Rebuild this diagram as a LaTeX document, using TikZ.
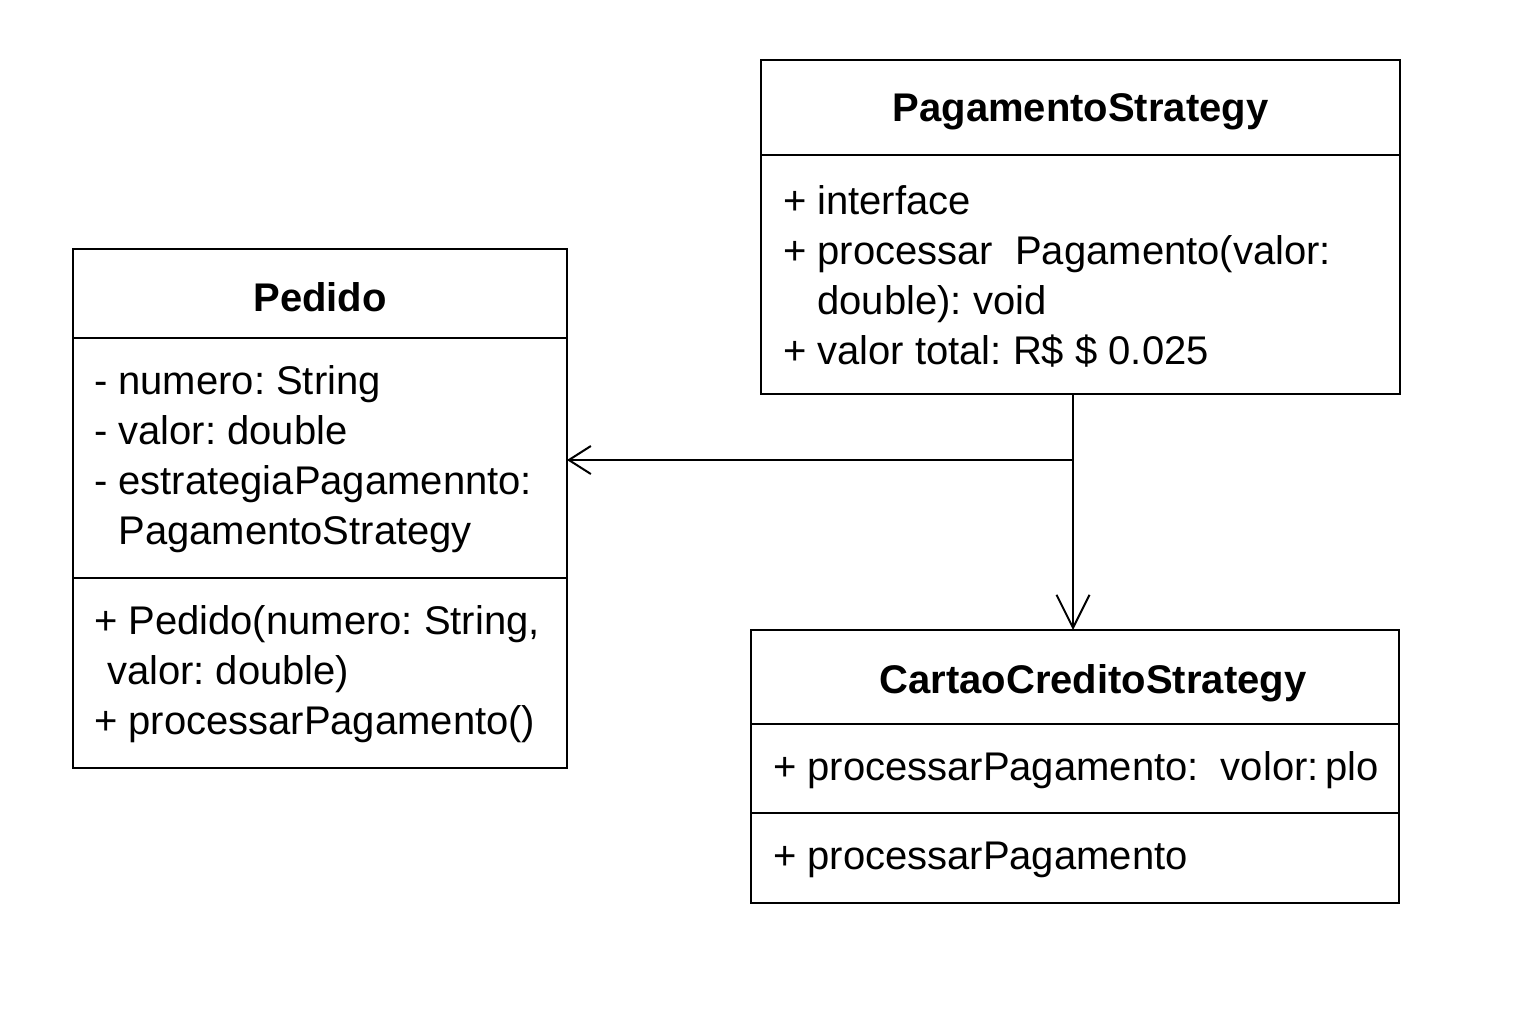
\documentclass[tikz,border=0pt]{standalone}
\usepackage{fontspec}
\setmainfont{Liberation Sans}
\usetikzlibrary{arrows.meta}
\newcommand*{\hang}[1]{\phantom{#1}}
\frenchspacing

\begin{document}
\begin{tikzpicture}[x=0.5pt, y=-0.5pt, line width=1pt,
  every node/.style={font=\fontsize{20}{25}\selectfont, inner sep=0pt},
  member/.style={anchor=west, align=left},
  title/.style={font=\fontsize{20}{25}\selectfont\bfseries, yshift=-2pt}]
  \useasboundingbox (0, 0) rectangle (1536, 1024);

  % PagamentoStrategy
  \draw (761, 60) rectangle (1400, 155) node[midway, title] (psname) {PagamentoStrategy};
  \draw (761, 155) rectangle (1400, 394);
  \node[member] (psattr) at (782, 276) {+ interface\\
    + processar\ \ Pagamento(valor:\\
    \hang{+ }double): void\\
    + valor total: R\$ \$ 0.025};

  % Pedido
  \draw (73, 249) rectangle (567, 338) node[midway, title] (pedname) {Pedido};
  \draw (73, 338) rectangle (567, 578);
  \draw (73, 578) rectangle (567, 768);
  \node[member] (pedattr) at (93, 459) {- numero: String\\
    - valor: double\\
    - estrategiaPagamennto:\\
    \hang{- }PagamentoStrategy};
  \node[member] (pedop) at (93, 674) {+ Pedido(numero: String,\\
    \hspace{6.5pt}valor: double)\\
    + processarPagamento()};

  % CartaoCreditoStrategy
  \draw (751, 630) rectangle (1399, 724);
  \draw (751, 724) rectangle (1399, 813);
  \draw (751, 813) rectangle (1399, 903);
  \node[title] (ccname) at (1093, 679) {CartaoCreditoStrategy};
  \node[member] (ccattr) at (772, 770) {+ processarPagamento:\ \ volor:\,plo};
  \node[member] (ccop) at (772, 860) {+ processarPagamento};

  % connectors
  \coordinate (psout) at (1073, 394);
  \coordinate (split) at (1073, 460);
  \coordinate (ccin) at (1073, 630);
  \coordinate (pedin) at (567, 460);
  \draw[-{Straight Barb[length=16.5pt, width=16.5pt]}] (psout) -- (ccin);
  \draw[-{Straight Barb[length=11pt, width=14pt]}] (split) -- (pedin);
\end{tikzpicture}
\end{document}
